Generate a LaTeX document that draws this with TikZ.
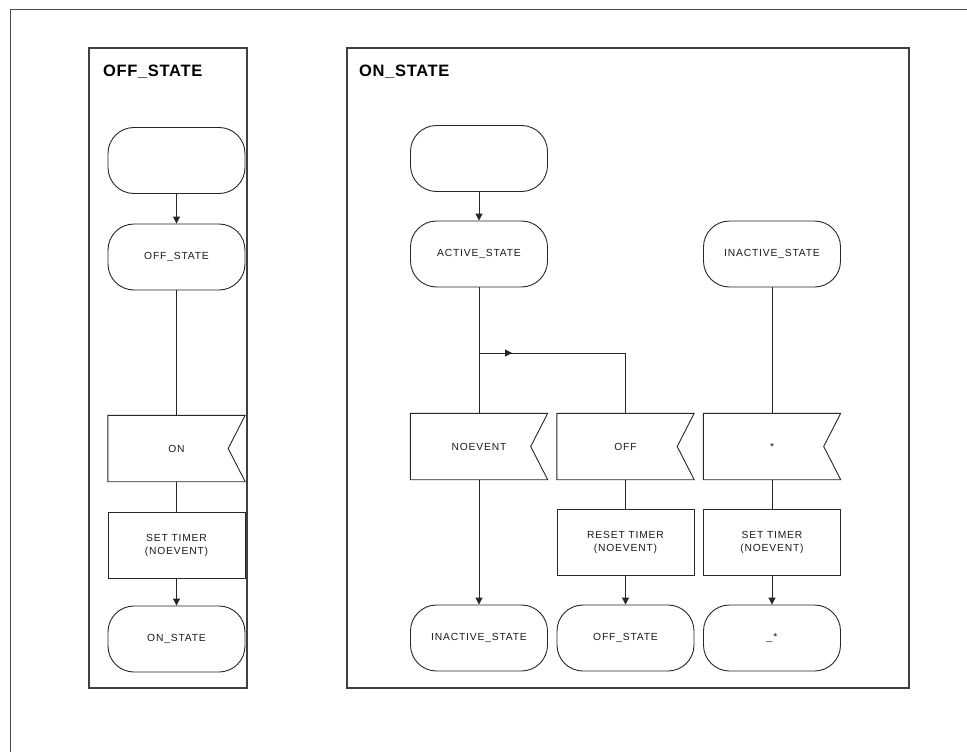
\documentclass[tikz,border=0pt]{standalone}
\usepackage{fontspec}
\setmainfont{Liberation Sans}
\newfontfamily\labelfont[LetterSpace=8]{Liberation Sans}
\newfontfamily\titlefont[LetterSpace=4]{Liberation Sans Bold}
\usetikzlibrary{arrows.meta,calc}
\begin{document}
\begin{tikzpicture}[x=1pt,y=-1pt,
  frameline/.style={draw=black!70,line width=1pt},
  panel/.style={draw=black!75,line width=1.3pt},
  paneltitle/.style={anchor=west,inner sep=0pt,font=\titlefont\fontsize{16.5}{18}\selectfont},
  shapebase/.style={minimum width=137pt,minimum height=66pt,inner sep=0pt,align=center,
    font=\labelfont\fontsize{10.3}{13}\selectfont,text=black!90},
  terminal/.style={shapebase,draw=black!85,line width=0.9pt,rounded corners=26pt},
  taskbox/.style={shapebase,draw=black!85,line width=0.9pt},
  signalbox/.style={shapebase},
  link/.style={draw=black!85,line width=1pt},
  flow/.style={link,-{Triangle[length=7pt,width=7pt]}}
]
\useasboundingbox (0,0) rectangle (967,752);

% open outer frame
\draw[frameline] (967,10) -- (10,10) -- (10,752);

% state panels
\draw[panel] (89,48) rectangle (247,688);
\node[paneltitle] (offtitle) at (103,72) {OFF\_STATE};
\draw[panel] (347,48) rectangle (909,688);
\node[paneltitle] (ontitle) at (359,72) {ON\_STATE};

% OFF_STATE flow
\node[terminal] (offstart) at (176.5,160.5) {};
\node[terminal] (offstate) at (176.5,257) {OFF\_STATE};
\node[signalbox] (sigon) at (176.5,448.5) {ON};
\node[taskbox] (settimerA) at (176.5,545) {SET TIMER\\(NOEVENT)};
\node[terminal] (tonstate) at (176.5,639) {ON\_STATE};

% ON_STATE flow
\node[terminal] (onstart) at (479,158.5) {};
\node[terminal] (active) at (479,254) {ACTIVE\_STATE};
\node[signalbox] (signoevent) at (479,446.5) {NOEVENT};
\node[terminal] (tinactive) at (479,638) {INACTIVE\_STATE};

\node[signalbox] (sigoff) at (625.5,446.5) {OFF};
\node[taskbox] (resettimer) at (625.5,542) {RESET TIMER\\(NOEVENT)};
\node[terminal] (toffstate) at (625.5,638) {OFF\_STATE};

\node[terminal] (inactive) at (772,254) {INACTIVE\_STATE};
\node[signalbox] (sigany) at (772,446.5) {*};
\node[taskbox] (settimerB) at (772,542) {SET TIMER\\(NOEVENT)};
\node[terminal] (tany) at (772,638) {\_*};

% input signal outlines, notched on the right
\foreach \s in {sigon,signoevent,sigoff,sigany}{
  \draw[draw=black!85,line width=0.9pt]
    (\s.north west) -- (\s.north east) -- ($(\s.east)+(-17,0)$)
    -- (\s.south east) -- (\s.south west) -- cycle;
}

% connectors
\draw[flow] (offstart) -- (offstate);
\draw[link] (offstate) -- (sigon);
\draw[link] (sigon) -- (settimerA);
\draw[flow] (settimerA) -- (tonstate);

\draw[flow] (onstart) -- (active);
\draw[link] (active) -- (signoevent);
\draw[flow] (signoevent) -- (tinactive);
\coordinate (branch) at (479,353);
\coordinate (corner) at (625.5,353);
\draw[link] (branch) -- (corner) -- (sigoff.north);
\draw[flow] (branch) -- ++(33,0);
\draw[link] (sigoff) -- (resettimer);
\draw[flow] (resettimer) -- (toffstate);

\draw[link] (inactive) -- (sigany);
\draw[link] (sigany) -- (settimerB);
\draw[flow] (settimerB) -- (tany);
\end{tikzpicture}
\end{document}
